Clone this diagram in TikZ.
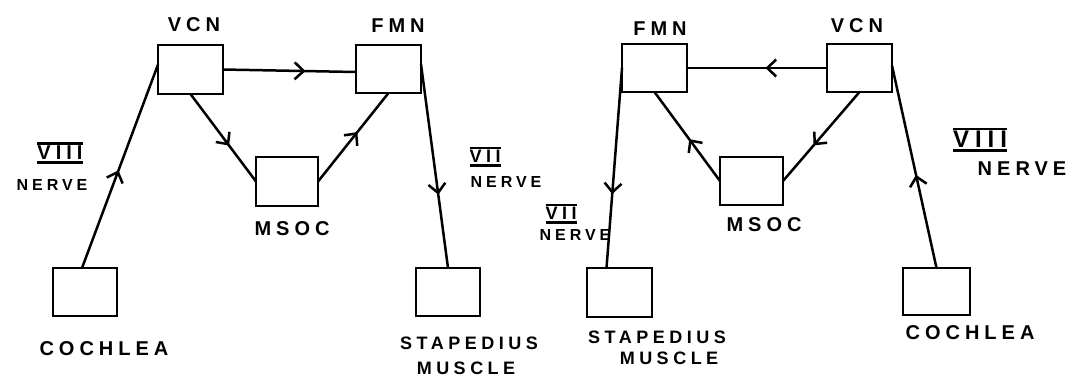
\documentclass[tikz,border=0pt]{standalone}
\usepackage{fontspec}
\newfontfamily\hand[LetterSpace=25]{Liberation Sans}
\usetikzlibrary{arrows.meta,decorations.markings,calc}
\tikzset{
  box/.style={draw,line width=2.8pt,minimum width=#1,minimum height=48pt,inner sep=0pt,outer sep=0pt},
  box/.default=64pt,
  lbl/.style={font=\hand\bfseries\fontsize{20}{22}\selectfont,inner sep=0pt},
  mlbl/.style={font=\hand\bfseries\fontsize{18}{20}\selectfont,inner sep=0pt},
  slbl/.style={font=\hand\bfseries\fontsize{16}{18}\selectfont,inner sep=0pt},
  wire/.style={line width=2.5pt,line cap=round},
  midarrow/.style={postaction={decorate},decoration={markings,mark=at position #1 with {\arrow{Straight Barb[length=9pt,width=17pt]}}}}
}
\newcommand{\rom}[1]{\vbox{\hrule height 2.5pt\kern1pt\hbox{#1}\kern1.5pt\hrule height 3pt}}
\begin{document}
\begin{tikzpicture}[x=1pt,y=-1pt]
\useasboundingbox (0,0) rectangle (1081,384);
% ---------- left diagram ----------
\node[box=65pt,minimum height=49pt] (vcnL) at (190.5,69.5) {};
\node[box=65pt] (fmnL) at (388.5,69) {};
\node[box=62pt,minimum height=49pt] (msocL) at (287,181.5) {};
\node[box] (cochL) at (85,292) {};
\node[box] (stapL) at (448,292) {};
\node[lbl] (tvcnL) at (194,25) {VCN};
\node[lbl] (tfmnL) at (398,26) {FMN};
\node[lbl] (tmsocL) at (292,229) {MSOC};
\node[lbl] (tcochL) at (104,349) {COCHLEA};
\node[mlbl] (tstapL) at (469,343) {STAPEDIUS};
\node[mlbl] (tmusL) at (466,368) {MUSCLE};
\node[lbl] (t8L) at (60,153) {\rom{VIII}};
\node[slbl] (tn8L) at (52,185) {NERVE};
\node[mlbl] (t7L) at (485,157) {\rom{VII}};
\node[slbl] (tn7L) at (506,182) {NERVE};
\draw[wire,midarrow=0.48] ($(cochL.north)+(-3,0)$) -- ($(vcnL.north west)!0.4!(vcnL.south west)$);
\draw[wire,midarrow=0.62] (vcnL.east) -- ($(fmnL.west)+(0,3)$);
\draw[wire,midarrow=0.59] (vcnL.south) -- (msocL.west);
\draw[wire,midarrow=0.56] (msocL.east) -- (fmnL.south);
\draw[wire,midarrow=0.64] ($(fmnL.north east)!0.4!(fmnL.south east)$) -- (stapL.north);
% ---------- right diagram ----------
\node[box=65pt] (fmnR) at (654.5,68) {};
\node[box=65pt] (vcnR) at (859.5,68) {};
\node[box=63pt] (msocR) at (751.5,181) {};
\node[box=65pt,minimum height=49pt] (stapR) at (619.5,292.5) {};
\node[box=67pt,minimum height=47pt] (cochR) at (936.5,291.5) {};
\node[lbl] (tfmnR) at (660,29) {FMN};
\node[lbl] (tvcnR) at (857,26) {VCN};
\node[lbl] (tmsocR) at (764,225) {MSOC};
\node[mlbl] (tstapR) at (657,337) {STAPEDIUS};
\node[mlbl] (tmusR) at (669,358) {MUSCLE};
\node[lbl] (tcochR) at (970,333) {COCHLEA};
\node[font=\hand\bfseries\fontsize{24}{26}\selectfont,inner sep=0pt] (t8R) at (980,140) {\rom{VIII}};
\node[lbl] (tn8R) at (1022,169) {NERVE};
\node[mlbl] (t7R) at (561,214) {\rom{VII}};
\node[slbl] (tn7R) at (575,235) {NERVE};
\draw[wire,midarrow=0.44] (vcnR.west) -- (fmnR.east);
\draw[wire,midarrow=0.6] (vcnR.south) -- (msocR.east);
\draw[wire,midarrow=0.47] (msocR.west) -- (fmnR.south);
\draw[wire,midarrow=0.63] (fmnR.west) -- ($(stapR.north west)!0.3!(stapR.north east)$);
\draw[wire,midarrow=0.46] (cochR.north) -- ($(vcnR.north east)!0.45!(vcnR.south east)$);
\end{tikzpicture}
\end{document}
